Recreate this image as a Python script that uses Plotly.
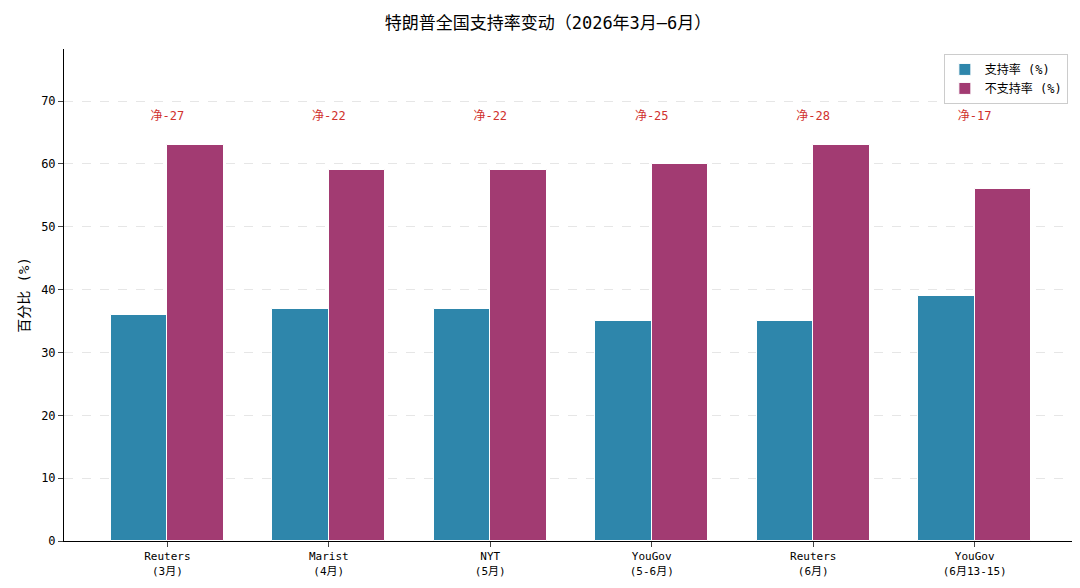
import plotly.graph_objects as go

polls = ["Reuters<br>(3月)", "Marist<br>(4月)", "NYT<br>(5月)", "YouGov<br>(5-6月)", "Reuters<br>(6月)", "YouGov<br>(6月13-15)"]
approve = [36, 37, 37, 35, 35, 39]
disapprove = [63, 59, 59, 60, 63, 56]
net = [-27, -22, -22, -25, -28, -17]

x = list(range(len(polls)))
font = "DejaVu Sans Mono, Noto Sans CJK SC"
fig = go.Figure()
fig.add_bar(x=[i - 0.175 for i in x], y=approve, width=0.35, name="支持率 (%)",
            marker=dict(color="#2E86AB", line=dict(color="white", width=1)))
fig.add_bar(x=[i + 0.175 for i in x], y=disapprove, width=0.35, name="不支持率 (%)",
            marker=dict(color="#A23B72", line=dict(color="white", width=1)))
fig.add_scatter(x=x, y=[67.5] * len(x), mode="text", text=[f"净{n}" for n in net],
                textfont=dict(color="#D0312D", size=12, family=font), showlegend=False, hoverinfo="skip")
fig.update_layout(
    width=1080, height=588, plot_bgcolor="white", paper_bgcolor="white",
    margin=dict(l=56, r=10, t=41, b=55, autoexpand=False),
    font=dict(family=font, size=12, color="black"),
    title=dict(text="特朗普全国支持率变动（2026年3月—6月）", x=0.5, xanchor="center",
               yref="container", y=0.985, yanchor="top", font=dict(size=17)),
    barmode="overlay", bargap=0,
    legend=dict(x=0.99, y=0.99, xanchor="right", yanchor="top", bordercolor="#cccccc", borderwidth=1,
                font=dict(size=12)),
    xaxis=dict(range=[-0.64, 5.64], tickvals=x, ticktext=polls, showline=True, linecolor="black",
               ticks="outside", tickfont=dict(size=11), showgrid=False, automargin=False),
    yaxis=dict(range=[0, 78.3], dtick=10, showline=True, linecolor="black", ticks="outside",
               gridcolor="#e6e6e6", griddash="dash", zeroline=False, automargin=False,
               title=dict(text="百分比 (%)", font=dict(size=14), standoff=8)),
)
fig.write_html("out.html")
